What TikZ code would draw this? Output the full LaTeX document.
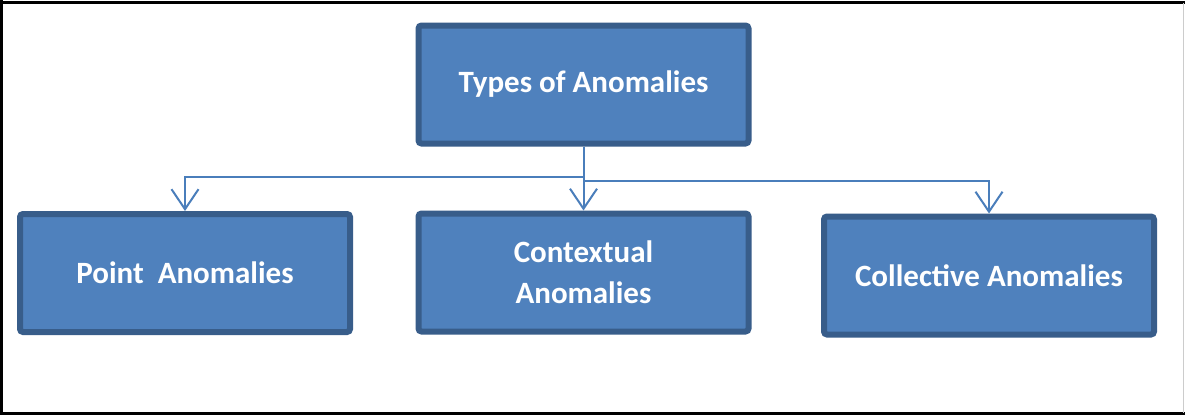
\documentclass[tikz,border=0pt]{standalone}
\usepackage{fontspec}
\setmainfont{Carlito}
\usetikzlibrary{arrows.meta}
\definecolor{boxfill}{HTML}{4F81BD}
\definecolor{boxedge}{HTML}{385D8A}
\definecolor{linkcol}{HTML}{4A7EBB}
\begin{document}
\begin{tikzpicture}[x=1pt,y=-1pt,
  catbox/.style={draw=boxedge, fill=boxfill, line width=6pt, rounded corners=3pt,
    minimum width=330pt, minimum height=118pt, inner sep=0pt, align=center,
    text=white, font=\fontsize{31}{41}\selectfont\bfseries},
  conn/.style={draw=linkcol, line width=2pt,
    -{Straight Barb[length=20pt,width=27pt,line width=2pt]}}]
  % page and frame
  \useasboundingbox (0,0) rectangle (1185,415);
  \fill[white] (0,0) rectangle (1185,415);
  \draw[black, line width=3pt] (0,2.5) -- (1185,2.5);
  \draw[black, line width=3pt] (0,413) -- (1185,413);
  \draw[black, line width=2.5pt] (1.5,0) -- (1.5,415);
  \draw[black!20, line width=1.5pt] (1183.5,2.5) -- (1183.5,413);

  % category boxes
  \node[catbox] (top)  at (583.5,84.5)  {Types of Anomalies};
  \node[catbox] (pt)   at (185,273)     {Point~ Anomalies};
  \node[catbox] (ctx)  at (583.5,272.5) {Contextual\\Anomalies};
  \node[catbox] (coll) at (989,275.5)   {Collective Anomalies};

  % elbow connectors from the root
  \coordinate (jl) at (583.5,177);
  \coordinate (jr) at (583.5,181);
  \draw[conn] (top.south) -- (ctx.north);
  \draw[conn] (top.south) -- (jl) -| (pt.north);
  \draw[conn] (top.south) -- (jr) -| (coll.north);
\end{tikzpicture}
\end{document}
